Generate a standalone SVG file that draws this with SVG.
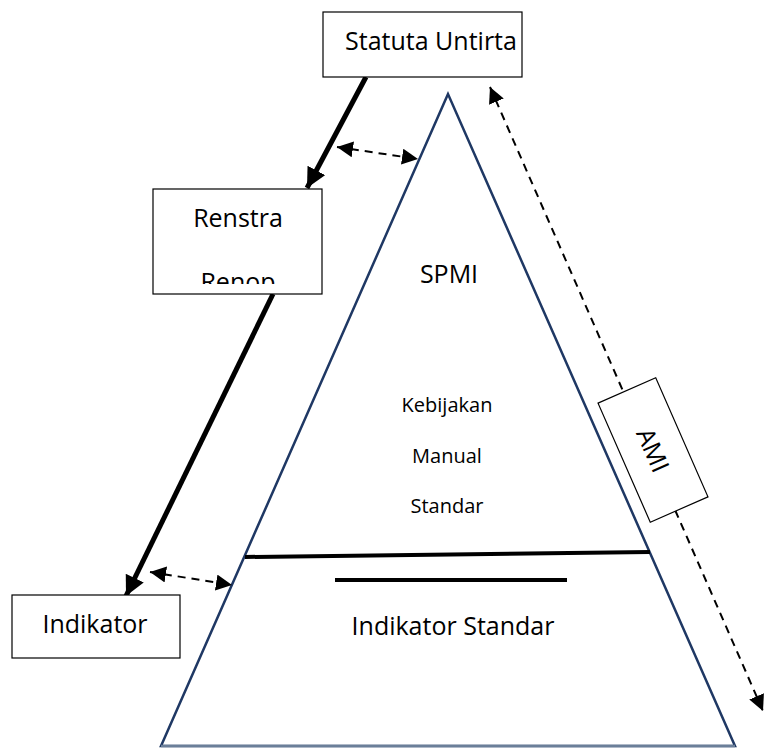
<svg xmlns="http://www.w3.org/2000/svg" width="766" height="749" viewBox="0 0 766 749">
<style>
.box{fill:#fff;stroke:#000;stroke-width:1.2}
.t{font-family:"Open Sans","Liberation Sans",sans-serif;fill:#000;text-anchor:middle}
.thick{stroke:#000;stroke-width:5;fill:none}
.dash{stroke:#000;stroke-width:2;stroke-dasharray:8,6;fill:none}
</style>
<defs>
<marker id="bigArrow" markerUnits="userSpaceOnUse" markerWidth="24" markerHeight="24" refX="20" refY="10" orient="auto">
<path d="M0,0 L20,10 L0,20 Z" fill="#000"/>
</marker>
<marker id="smallArrow" markerUnits="userSpaceOnUse" markerWidth="18" markerHeight="18" refX="16" refY="8" orient="auto-start-reverse">
<path d="M0,0 L16,8 L0,16 Z" fill="#000"/>
</marker>
<clipPath id="renClip"><rect x="153" y="189" width="169" height="95"/></clipPath>
</defs>
<g id="triangle">
<polygon points="448,94 161,746 735,746" fill="#fff" stroke="#1f3864" stroke-width="2.5"/>
<line x1="161" y1="746" x2="735" y2="746" stroke="#6b7f99" stroke-width="2.5"/>
<line x1="245" y1="557" x2="650" y2="552" stroke="#000" stroke-width="4"/>
<line x1="335" y1="580" x2="567" y2="580" stroke="#000" stroke-width="4"/>
<text class="t" x="449" y="283" font-size="25">SPMI</text>
<text class="t" x="447" y="412" font-size="20">Kebijakan</text>
<text class="t" x="447" y="463" font-size="20">Manual</text>
<text class="t" x="447" y="513" font-size="20">Standar</text>
<text class="t" x="453" y="635" font-size="25">Indikator Standar</text>
</g>
<g id="connectors">
<line class="thick" x1="366" y1="77" x2="307" y2="188" marker-end="url(#bigArrow)"/>
<line class="thick" x1="273" y1="294" x2="126" y2="596" marker-end="url(#bigArrow)"/>
<line class="dash" x1="337" y1="147" x2="418" y2="159" marker-start="url(#smallArrow)" marker-end="url(#smallArrow)"/>
<line class="dash" x1="150" y1="572" x2="232" y2="585" marker-start="url(#smallArrow)" marker-end="url(#smallArrow)"/>
<line class="dash" x1="490" y1="87" x2="763" y2="711" marker-start="url(#smallArrow)" marker-end="url(#smallArrow)"/>
</g>
<g id="statuta">
<rect class="box" x="323" y="12" width="199" height="65"/>
<text class="t" x="431" y="50" font-size="25">Statuta Untirta</text>
</g>
<g id="renstra">
<rect class="box" x="153" y="189" width="169" height="105"/>
<text class="t" x="238" y="227" font-size="25">Renstra</text>
<text class="t" x="238" y="291" font-size="25" clip-path="url(#renClip)">Renop</text>
</g>
<g id="indikator">
<rect class="box" x="12" y="595" width="168" height="63"/>
<text class="t" x="95" y="633" font-size="25">Indikator</text>
</g>
<g id="ami" transform="translate(653,450) rotate(66.3)">
<rect class="box" x="-65" y="-31.5" width="130" height="63"/>
<text class="t" x="0" y="9" font-size="25">AMI</text>
</g>
</svg>
